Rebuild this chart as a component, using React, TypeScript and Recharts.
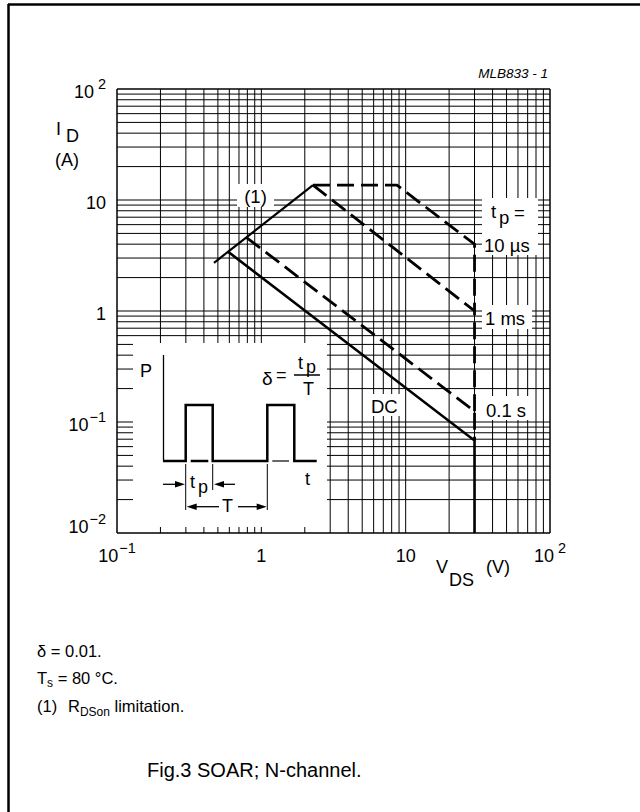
import React from 'react'
import { LineChart, Line, XAxis, YAxis, ReferenceLine } from 'recharts'

const FONT = '"Liberation Sans", Arial, Helvetica, sans-serif'
const NARROW = '"Liberation Sans Narrow", "Arial Narrow", "Liberation Sans", Arial, sans-serif'

// axes (log-log)
const xDomain = [0.1, 100]
const yDomain = [0.01, 100]
const xTicks = [0.1, 1, 10, 100]
const xTickBase = ['10', '1', '10', '10']
const xTickExp = ['−1', '', '', '2']
const yTicks = [0.01, 0.1, 1, 10, 100]
const yTickBase = ['10', '10', '1', '10', '10']
const yTickExp = ['−2', '−1', '', '', '2']
const gridSteps = [1, 2, 3, 4, 5, 6, 7, 8, 9]
const xDecades = [0.1, 1, 10]
const yDecades = [0.01, 0.1, 1, 10]

// curves: V_DS (V) / I_D (A)
const rdsonV = [0.47, 2.28]
const rdsonI = [2.72, 13.6]
const tp10usV = [2.28, 8.7, 30, 30]
const tp10usI = [13.6, 13.6, 4.0, 1.0]
const tp1msV = [2.28, 30, 30]
const tp1msI = [13.6, 1.0, 0.125]
const tp100msV = [0.79, 30, 30]
const tp100msI = [4.58, 0.125, 0.068]
const dcV = [0.59, 30, 30]
const dcI = [3.41, 0.068, 0.01]

const toPoints = (vs: number[], is: number[]) => vs.map((v, k) => ({ v, i: is[k] }))

const xGrid = xDecades.flatMap(d => gridSteps.map(s => +(d * s).toPrecision(3))).concat([100])
const yGrid = yDecades.flatMap(d => gridSteps.map(s => +(d * s).toPrecision(3))).concat([100])

const XTick = (props: any) => {
  const { x, y, payload } = props
  const k = xTicks.indexOf(payload.value)
  return (
    <text x={x} y={y + 21} textAnchor="middle" fontSize={18} fontFamily={FONT} fill="#000">
      {xTickBase[k]}
      {xTickExp[k] && <tspan dx={xTickExp[k] === '2' ? 4 : 1} dy={-9} fontSize={14.5}>{xTickExp[k]}</tspan>}
    </text>
  )
}

const YTick = (props: any) => {
  const { x, y, payload } = props
  const k = yTicks.indexOf(payload.value)
  const off = payload.value === 0.01 ? 0 : 9
  return (
    <text x={x - 3} y={y + off} textAnchor="end" fontSize={18} fontFamily={FONT} fill="#000">
      {yTickBase[k]}
      {yTickExp[k] && <tspan dx={yTickExp[k] === '2' ? 4 : 1} dy={-9} fontSize={14.5}>{yTickExp[k]}</tspan>}
    </text>
  )
}

const Arrow = ({ tip, y, dir }: { tip: number; y: number; dir: 1 | -1 }) => (
  <polygon points={`${tip},${y} ${tip - dir * 10},${y - 3.3} ${tip - dir * 10},${y + 3.3}`} fill="#000" />
)

const App = () => {
  const solid = { stroke: '#000', strokeWidth: 2.2, dot: false, isAnimationActive: false, type: 'linear' as const }
  const dashed = { ...solid, strokeWidth: 2.8, strokeDasharray: '17 7' }
  return (
    <div style={{ position: 'absolute', left: 0, top: 0, width: 640, height: 812, background: '#fff' }}>
      <LineChart width={640} height={812} margin={{ top: 89, right: 90, left: 57, bottom: 239 }}>
        <XAxis type="number" dataKey="v" scale="log" domain={xDomain} ticks={xTicks} allowDataOverflow
          height={40} axisLine={false} tickLine={false} tick={<XTick />} interval={0} />
        <YAxis type="number" dataKey="i" scale="log" domain={yDomain} ticks={yTicks} allowDataOverflow
          width={60} axisLine={false} tickLine={false} tick={<YTick />} interval={0} />
        {xGrid.map(v => (
          <ReferenceLine key={'x' + v} x={v} stroke="#000" strokeWidth={v === 0.1 || v === 100 ? 1.5 : 1} />
        ))}
        {yGrid.map(v => (
          <ReferenceLine key={'y' + v} y={v} stroke="#000" strokeWidth={v === 0.01 || v === 100 ? 1.5 : 1} />
        ))}
        <Line data={toPoints(rdsonV, rdsonI)} dataKey="i" {...solid} />
        <Line data={toPoints(tp10usV, tp10usI)} dataKey="i" {...dashed} />
        <Line data={toPoints(tp1msV, tp1msI)} dataKey="i" {...dashed} />
        <Line data={toPoints(tp100msV, tp100msI)} dataKey="i" {...dashed} />
        <Line data={toPoints(dcV, dcI)} dataKey="i" {...solid} strokeWidth={2.6} />
      </LineChart>

      <svg width={640} height={812} style={{ position: 'absolute', left: 0, top: 0, pointerEvents: 'none' }}
        fontFamily={FONT} fill="#000">
        {/* frame */}
        <line x1={8} y1={4.5} x2={640} y2={4.5} stroke="#000" strokeWidth={2.5} />
        <line x1={8.5} y1={4} x2={8.5} y2={812} stroke="#000" strokeWidth={2.5} />

        <text x={548} y={78} fontSize={13.5} fontStyle="italic" textAnchor="end">MLB833 - 1</text>

        {/* axis titles */}
        <text x={56} y={135} fontSize={18}>I</text>
        <text x={66} y={142} fontSize={18}>D</text>
        <text x={55} y={166} fontSize={18}>(A)</text>
        <text x={436} y={573} fontSize={18}>V</text>
        <text x={449} y={586} fontSize={18}>DS</text>
        <text x={486} y={573} fontSize={18}>(V)</text>

        {/* curve labels */}
        <rect x={237} y={184} width={37} height={23} fill="#fff" />
        <text x={255.5} y={203} fontSize={18.5} textAnchor="middle">(1)</text>
        <rect x={482} y={198} width={56} height={57} fill="#fff" />
        <text x={491} y={218} fontSize={18.5}>t</text>
        <text x={499} y={224} fontSize={18.5}>p</text>
        <text x={514} y={219} fontSize={18.5}>=</text>
        <text x={484} y={252} fontSize={18.5}>10 µs</text>
        <rect x={482} y={305} width={50} height={24} fill="#fff" />
        <text x={485} y={325} fontSize={18.5}>1 ms</text>
        <rect x={482} y={396} width={52} height={24} fill="#fff" />
        <text x={486} y={417} fontSize={18.5}>0.1 s</text>
        <rect x={367} y={394} width={37} height={22} fill="#fff" />
        <text x={371} y={413} fontSize={18.5}>DC</text>

        {/* inset: pulse definition */}
        <rect x={133} y={343} width={194} height={184} fill="#fff" />
        <line x1={163.5} y1={355} x2={163.5} y2={461} stroke="#000" strokeWidth={1.3} />
        <text x={140} y={377} fontSize={18}>P</text>
        <polyline fill="none" stroke="#000" strokeWidth={2.5}
          points="163,461 185.7,461 185.7,405 212.7,405 212.7,461 267.3,461 267.3,405 294.3,405 294.3,461 316.7,461" />
        <line x1={190.7} y1={461} x2={208.3} y2={461} stroke="#000" strokeWidth={2.5} />
        <line x1={272.3} y1={461} x2={289} y2={461} stroke="#000" strokeWidth={1.2} />
        <text x={305} y={485} fontSize={18}>t</text>

        <text x={262} y={385} fontSize={19}>δ</text>
        <text x={276} y={381} fontSize={18}>=</text>
        <line x1={294} y1={375} x2={320} y2={375} stroke="#000" strokeWidth={1.5} />
        <text x={298} y={369} fontSize={18}>t</text>
        <text x={306} y={372.5} fontSize={18}>p</text>
        <text x={303} y={395} fontSize={18}>T</text>

        <line x1={185.7} y1={464} x2={185.7} y2={510} stroke="#000" strokeWidth={1} />
        <line x1={212.7} y1={464} x2={212.7} y2={490} stroke="#000" strokeWidth={1} />
        <line x1={267.3} y1={464} x2={267.3} y2={510} stroke="#000" strokeWidth={1} />
        <line x1={163} y1={484.3} x2={176} y2={484.3} stroke="#000" strokeWidth={1.3} />
        <Arrow tip={185} y={484.3} dir={1} />
        <text x={190} y={488} fontSize={18}>t</text>
        <text x={198} y={493} fontSize={18}>p</text>
        <Arrow tip={214} y={484.3} dir={-1} />
        <line x1={223} y1={484.3} x2={235} y2={484.3} stroke="#000" strokeWidth={1.3} />
        <Arrow tip={186.7} y={506.7} dir={-1} />
        <line x1={196} y1={506.7} x2={219} y2={506.7} stroke="#000" strokeWidth={1.3} />
        <text x={222} y={512} fontSize={18}>T</text>
        <line x1={238} y1={506.7} x2={258} y2={506.7} stroke="#000" strokeWidth={1.3} />
        <Arrow tip={266.7} y={506.7} dir={1} />

        {/* notes */}
        <text x={37} y={657} fontSize={16.5} fontFamily={NARROW}>δ = 0.01.</text>
        <text x={37} y={684} fontSize={16.5} fontFamily={NARROW}>
          T<tspan dy={3} fontSize={12}>s</tspan><tspan dy={-3}> = 80 °C.</tspan>
        </text>
        <text x={37} y={712} fontSize={16.5} fontFamily={NARROW}>(1)</text>
        <text x={68} y={712} fontSize={16.5} fontFamily={NARROW}>
          R<tspan dy={4} fontSize={12}>DSon</tspan><tspan dy={-4}> limitation.</tspan>
        </text>
        <text x={147} y={777} fontSize={20}>Fig.3  SOAR; N-channel.</text>
      </svg>
    </div>
  )
}

export default App
